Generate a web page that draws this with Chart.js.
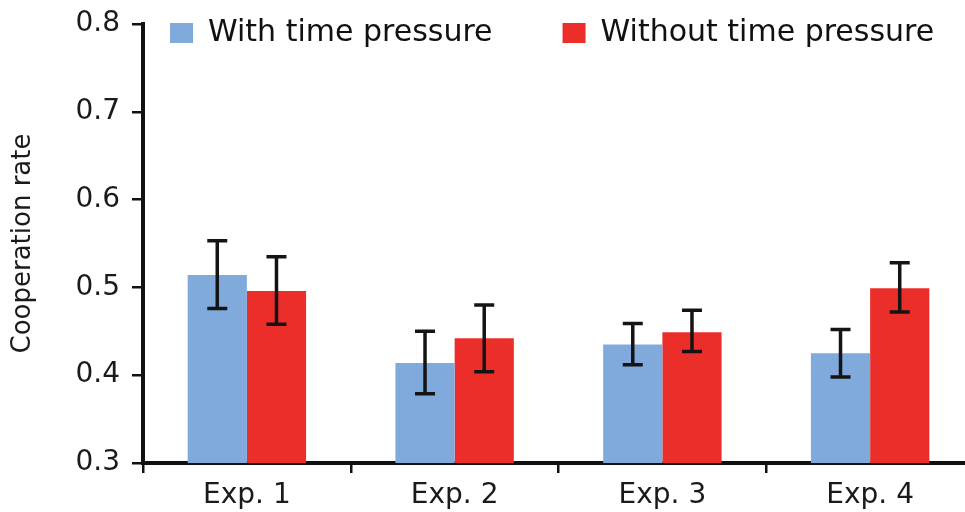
<!DOCTYPE html>
<html>
<head>
<meta charset="utf-8">
<script src="https://cdn.jsdelivr.net/npm/chart.js@4"></script>
<style>
  html, body { margin: 0; padding: 0; background: #fff; overflow: hidden; }
  #wrap { width: 975px; height: 512px; position: relative; }
</style>
</head>
<body>
<div id="wrap"><canvas id="coopChart"></canvas></div>
<script>
// data
const categories = ['Exp. 1', 'Exp. 2', 'Exp. 3', 'Exp. 4'];
const withPressure = [0.514, 0.414, 0.435, 0.425];
const withoutPressure = [0.496, 0.442, 0.449, 0.499];
// error bar ends
const withLow = [0.476, 0.379, 0.412, 0.398];
const withHigh = [0.553, 0.450, 0.459, 0.452];
const withoutLow = [0.458, 0.404, 0.427, 0.472];
const withoutHigh = [0.535, 0.480, 0.474, 0.528];
const yTicks = [0.3, 0.4, 0.5, 0.6, 0.7, 0.8];

Chart.defaults.font.family = '"DejaVu Sans", sans-serif';
Chart.defaults.color = '#1a1a1a';

// draws the whiskers using the bar elements and the y scale
const errorBars = {
    id: 'errorBars',
    afterDatasetsDraw(chart) {
        const ctx = chart.ctx;
        const y = chart.scales.y;
        ctx.save();
        ctx.strokeStyle = '#141414';
        ctx.lineWidth = 3.5;
        chart.data.datasets.forEach((ds, i) => {
            chart.getDatasetMeta(i).data.forEach((bar, j) => {
                const yHi = y.getPixelForValue(ds.errHigh[j]);
                const yLo = y.getPixelForValue(ds.errLow[j]);
                const cap = 10;
                ctx.beginPath();
                ctx.moveTo(bar.x, yHi);
                ctx.lineTo(bar.x, yLo);
                ctx.moveTo(bar.x - cap, yHi);
                ctx.lineTo(bar.x + cap, yHi);
                ctx.moveTo(bar.x - cap, yLo);
                ctx.lineTo(bar.x + cap, yLo);
                ctx.stroke();
            });
        });
        ctx.restore();
    }
};

// the legend sits inside the plot, so move it after layout
const legendInPlot = {
    id: 'legendInPlot',
    afterLayout(chart) {
        const lg = chart.legend;
        const pad = lg.options.labels.padding;
        lg.left = 170 - pad;
        lg.right = 1200;
        lg.top = 18 - pad;
        lg.bottom = 70;
        lg.width = lg.right - lg.left;
        lg.height = lg.bottom - lg.top;
    }
};

const ctx1 = document.querySelector('#coopChart').getContext('2d');

const chart1 = new Chart(ctx1, {
    type: 'bar',
    data: {
        labels: categories,
        datasets: [{
            label: 'With time pressure',
            data: withPressure,
            errLow: withLow,
            errHigh: withHigh,
            backgroundColor: '#80aadc',
            categoryPercentage: 0.57,
            barPercentage: 1.0
        }, {
            label: 'Without time pressure',
            data: withoutPressure,
            errLow: withoutLow,
            errHigh: withoutHigh,
            backgroundColor: '#ec2e2b',
            categoryPercentage: 0.57,
            barPercentage: 1.0
        }]
    },
    options: {
        responsive: true,
        maintainAspectRatio: false,
        animation: false,
        layout: { padding: { top: 23, right: 1, left: 0, bottom: 0 } },
        plugins: {
            tooltip: { enabled: false },
            legend: {
                position: 'top',
                align: 'start',
                maxHeight: 1,
                labels: {
                    boxWidth: 23,
                    boxHeight: 20,
                    padding: 70,
                    color: '#111',
                    font: { size: 30 }
                }
            }
        },
        scales: {
            x: {
                afterFit(scale) { scale.height = 49; },
                grid: {
                    drawOnChartArea: false,
                    color: '#111',
                    lineWidth: 2.5,
                    tickLength: 10
                },
                border: { color: '#111', width: 4 },
                ticks: { padding: 6, font: { size: 28 } }
            },
            y: {
                min: 0.3,
                max: 0.8,
                afterFit(scale) {
                    scale.width = 143;
                    scale.paddingTop = 0;
                    scale.paddingBottom = 0;
                },
                afterBuildTicks(scale) {
                    scale.ticks = yTicks.map(v => ({ value: v }));
                },
                grid: {
                    drawOnChartArea: false,
                    color: '#111',
                    lineWidth: 2.5,
                    tickLength: 11
                },
                border: { color: '#111', width: 4 },
                ticks: {
                    padding: 12,
                    font: { size: 28 },
                    callback: v => v.toFixed(1)
                },
                title: {
                    display: true,
                    text: 'Cooperation rate',
                    font: { size: 26 },
                    padding: { top: 8, bottom: 0 }
                }
            }
        }
    },
    plugins: [errorBars, legendInPlot]
});
</script>
</body>
</html>
